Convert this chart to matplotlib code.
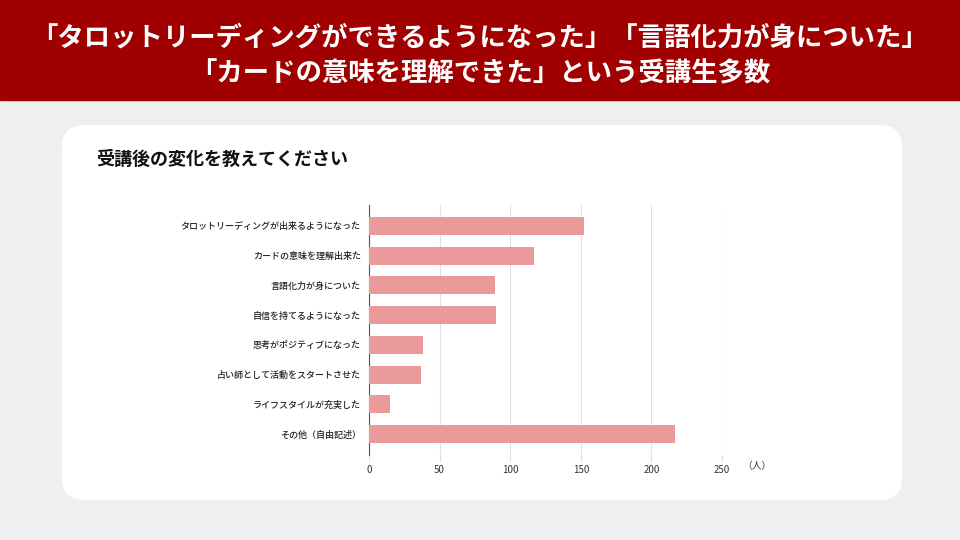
import matplotlib.pyplot as plt
from matplotlib.patches import FancyBboxPatch, Rectangle

plt.rcParams['font.family'] = ['Noto Sans CJK JP', 'DejaVu Sans']

# data
labels = ['タロットリーディングが出来るようになった', 'カードの意味を理解出来た', '言語化力が身についた',
          '自信を持てるようになった', '思考がポジティブになった', '占い師として活動をスタートさせた',
          'ライフスタイルが充実した', 'その他（自由記述）']
counts = [152, 117, 89, 90, 38, 37, 15, 217]
xticks = [0, 50, 100, 150, 200, 250]

title = '「タロットリーディングができるようになった」「言語化力が身についた」\n「カードの意味を理解できた」という受講生多数'
subtitle = '受講後の変化を教えてください'

fig = plt.figure(figsize=(9.6, 5.4), dpi=100)
fig.patch.set_facecolor('#efeef0')

# background layer in pixel coords
bg = fig.add_axes([0, 0, 1, 1])
bg.set_xlim(0, 960)
bg.set_ylim(540, 0)
bg.axis('off')
bg.add_patch(Rectangle((0, 0), 960, 100, color='#a00000'))
bg.add_patch(FancyBboxPatch((78, 141), 808, 343, boxstyle='round,pad=16,rounding_size=22',
                            fc='white', ec='none'))
bg.text(480, 56, title, color='white', fontsize=19, fontweight='bold',
        ha='center', va='center', linespacing=1.45)
bg.text(96, 159, subtitle, color='#111111', fontsize=13, fontweight='bold',
        ha='left', va='center')

ax = fig.add_axes([369 / 960, 85 / 540, 353 / 960, 250 / 540])
ax.set_facecolor('none')
ypos = list(range(len(labels)))
ax.barh(ypos, counts, height=0.6, color='#eb9a9c', zorder=3)
ax.set_xlim(0, 250)
ax.set_ylim(len(labels) - 0.3, -0.7)
ax.set_yticks(ypos)
ax.set_yticklabels(labels, fontsize=6.5, color='#222222', fontweight='medium')
ax.set_xticks(xticks)
ax.set_xticklabels([str(t) for t in xticks], fontsize=7, color='#333333')
ax.grid(axis='x', color='#e2dfe2', linewidth=0.8, zorder=0)
for s in ['top', 'right', 'bottom']:
    ax.spines[s].set_visible(False)
ax.spines['left'].set_color('#555555')
ax.spines['left'].set_linewidth(0.8)
ax.tick_params(axis='y', length=0, pad=6)
ax.tick_params(axis='x', length=4, color='#dddddd', pad=3)
bg.text(757, 466, '（人）', fontsize=7, color='#333333', ha='center', va='center')

fig.savefig('out.png', dpi=100)
